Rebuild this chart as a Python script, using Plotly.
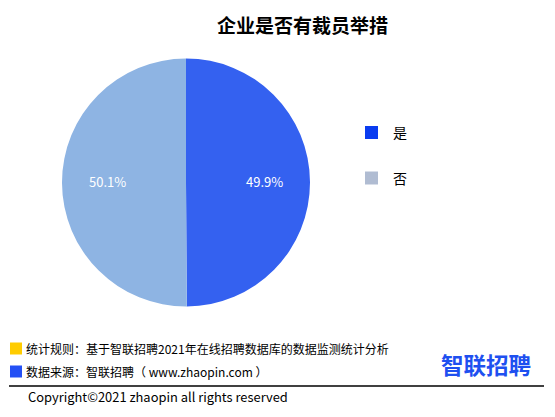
import math
import plotly.graph_objects as go

title = "企业是否有裁员举措"
labels = ["是", "否"]
values = [49.9, 50.1]
slice_colors = ["#3461F0", "#8EB4E3"]
legend_colors = ["#0A3CF0", "#B0BCD2"]
note_rule = "统计规则：基于智联招聘2021年在线招聘数据库的数据监测统计分析"
note_source = "数据来源：智联招聘（ www.zhaopin.com ）"
copyright_text = "Copyright©2021 zhaopin all rights reserved"
logo_text = "智联招聘"

W, H = 555, 417
OFF = 8  # page body margin offset
FONT = "Noto Sans CJK SC, Microsoft YaHei, sans-serif"

def px(x):
    return (x - OFF) / W

def py(y):
    return 1 - (y - OFF) / H

CX, CY, R = 186, 182.5, 124

fig = go.Figure()
fig.add_trace(go.Pie(
    labels=labels, values=values, sort=False, direction="clockwise", rotation=0,
    marker=dict(colors=slice_colors, line=dict(width=0)),
    textinfo="none",
    domain=dict(x=[px(CX - R), px(CX + R)], y=[py(CY + R), py(CY - R)]),
    showlegend=False, hoverinfo="label+percent",
))

shapes = []
annotations = []

# slice labels placed along each slice's bisector
total = sum(values)
start = 90.0
for v in values:
    frac = v / total
    mid = start - frac * 360 / 2
    start -= frac * 360
    lx = CX + 0.63 * R * math.cos(math.radians(mid))
    ly = CY - 0.63 * R * math.sin(math.radians(mid))
    annotations.append(dict(text=f"{frac * 100:.1f}%", x=px(lx), y=py(ly - 1), xref="paper", yref="paper",
                            xanchor="center", yanchor="middle", showarrow=False,
                            font=dict(size=13, color="white", family=FONT)))

# custom legend
leg_y = [132.5, 178]
for lab, col, yc in zip(labels, legend_colors, leg_y):
    shapes.append(dict(type="rect", xref="paper", yref="paper",
                       x0=px(365), x1=px(378), y0=py(yc + 6.5), y1=py(yc - 6.5),
                       fillcolor=col, line=dict(width=0)))
    annotations.append(dict(text=lab, x=px(391), y=py(yc), xref="paper", yref="paper",
                            xanchor="left", yanchor="middle", showarrow=False,
                            font=dict(size=14, color="#000000", family=FONT)))

# title
annotations.append(dict(text="<b>" + title + "</b>", x=px(302), y=py(25), xref="paper", yref="paper",
                        xanchor="center", yanchor="middle", showarrow=False,
                        font=dict(size=19, color="#000000", family=FONT)))

# footer notes
for col, txt, yc in [("#FFCC00", note_rule, 348.5), ("#2450F5", note_source, 371.5)]:
    shapes.append(dict(type="rect", xref="paper", yref="paper",
                       x0=px(10), x1=px(22), y0=py(yc + 6), y1=py(yc - 6),
                       fillcolor=col, line=dict(width=0)))
    annotations.append(dict(text=txt, x=px(24), y=py(yc), xref="paper", yref="paper",
                            xanchor="left", yanchor="middle", showarrow=False,
                            font=dict(size=12, color="#000000", family=FONT)))

shapes.append(dict(type="line", xref="paper", yref="paper", x0=px(9), x1=px(544),
                   y0=py(386), y1=py(386), line=dict(color="#000000", width=1.5)))

annotations.append(dict(text=copyright_text, x=px(26), y=py(396), xref="paper", yref="paper",
                        xanchor="left", yanchor="middle", showarrow=False,
                        font=dict(size=12.9, color="#000000", family=FONT)))

annotations.append(dict(text="<b>" + logo_text + "</b>", x=px(485.5), y=py(364), xref="paper", yref="paper",
                        xanchor="center", yanchor="middle", showarrow=False,
                        font=dict(size=22.5, color="#1E50F0", family=FONT)))

fig.update_layout(
    width=W, height=H, margin=dict(l=0, r=0, t=0, b=0),
    paper_bgcolor="white", plot_bgcolor="white",
    shapes=shapes, annotations=annotations,
    font=dict(family=FONT),
)

fig.write_html("out.html")
